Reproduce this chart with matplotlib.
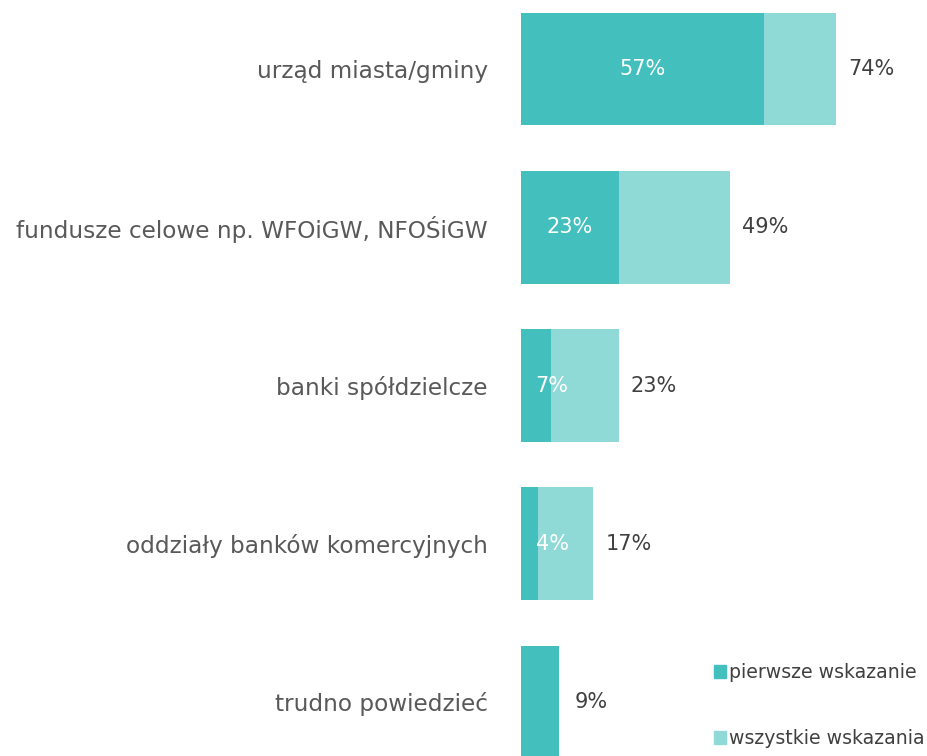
import matplotlib
matplotlib.use('Agg')
import matplotlib.pyplot as plt
from matplotlib.patches import Patch

categories = ['urząd miasta/gminy', 'fundusze celowe np. WFOiGW, NFOŚiGW',
              'banki spółdzielcze', 'oddziały banków komercyjnych', 'trudno powiedzieć']
first = [57, 23, 7, 4, 9]          # pierwsze wskazanie
allv = [74, 49, 23, 17, None]       # wszystkie wskazania
legend_labels = ['pierwsze wskazanie', 'wszystkie wskazania']

dark = '#43bfbd'
light = '#8fd9d7'

plt.rcParams['font.family'] = ['DejaVu Sans']

fig = plt.figure(figsize=(9.28, 7.56), dpi=100)
ax = fig.add_axes([521/928, 0, 1 - 521/928 - 2/928, 1])

y = list(range(len(categories)))
h = 0.714
for i in y:
    if allv[i] is not None:
        ax.barh(i, allv[i], height=h, color=light, zorder=1)
    ax.barh(i, first[i], height=h, color=dark, zorder=2)

# labels
for i in y:
    if allv[i] is not None:
        ax.text(max(first[i] / 2, 7.3), i, '%d%%' % first[i], color='white',
                ha='center', va='center', fontsize=15, zorder=3)
        ax.text(allv[i] + 2.8, i, '%d%%' % allv[i], color='#404040',
                ha='left', va='center', fontsize=15)
    else:
        ax.text(first[i] + 3.6, i, '%d%%' % first[i], color='#404040',
                ha='left', va='center', fontsize=15)

ax.set_xlim(0, 95)
ax.set_ylim(4 + 54/158.25, -69/158.25)
ax.set_yticks(y)
ax.set_yticklabels(categories, fontsize=16.7, color='#595959')
ax.tick_params(axis='y', length=0, pad=24)
ax.set_xticks([])
for s in ax.spines.values():
    s.set_visible(False)

handles = [Patch(color=dark), Patch(color=light)]
fig.legend(handles, legend_labels, loc='upper left',
           bbox_to_anchor=(697/928, 1 - 646/756), frameon=False,
           fontsize=13.6, handlelength=0.65, handleheight=0.65,
           handletextpad=0.15, labelspacing=2.5, labelcolor='#404040')

fig.savefig('out.png', dpi=100)
